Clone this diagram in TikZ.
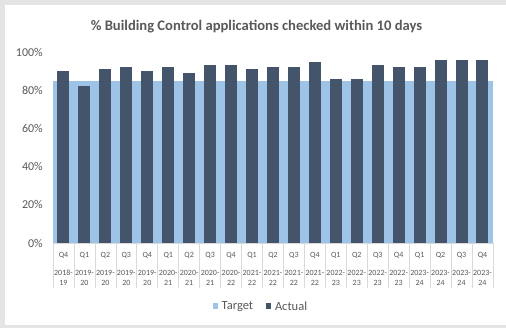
\documentclass[tikz,border=0pt]{standalone}
\usepackage{fontspec}
\setmainfont{Carlito}
\definecolor{outerbg}{HTML}{E4E4E4}
\definecolor{targetc}{HTML}{9DC3E6}
\definecolor{actualc}{HTML}{44546A}
\definecolor{txt}{HTML}{595959}
\definecolor{axisc}{HTML}{D9D9D9}
\tikzset{
  ylab/.style={anchor=east,text=txt,font=\fontsize{12}{14}\selectfont,inner sep=0pt},
  qlab/.style={text=txt,font=\fontsize{8}{9}\selectfont,inner sep=0pt},
  ttl/.style={text=txt,font=\bfseries\fontsize{14.6}{17}\selectfont,inner sep=0pt},
  leg/.style={anchor=west,text=txt,font=\fontsize{12.5}{14}\selectfont,inner sep=0pt},
  actbar/.style={fill=actualc,draw=none},
  tgtbar/.style={fill=targetc,draw=none},
  sep/.style={draw=axisc,line width=0.7pt}
}
\begin{document}
\begin{tikzpicture}[x=1pt,y=-1pt]
\useasboundingbox (0,0) rectangle (506,328);
\fill[outerbg] (0,0) rectangle (506,328);
\fill[white] (5,5.5) rectangle (506,325.5);
% title
\node[ttl] (title) at (256.5,27) {\% Building Control applications checked within 10 days};
% y labels
\foreach \v/\t in {0/0\%,20/20\%,40/40\%,60/60\%,80/80\%,100/100\%}{
  \node[ylab] (y\v) at (43,{243-1.91*\v}) {\t};
}
% target band
\foreach \i in {0,...,20}{
  \fill[tgtbar] ({53+20.95*\i},{243-1.91*85}) rectangle ({53+20.95*(\i+1)},243);
}
% actual bars
\foreach \v [count=\i from 0] in {90,82,91,92,90,92,89,93,93,91,92,92,95,86,86,93,92,92,96,96,96}{
  \fill[actbar] ({53+20.95*(\i+0.5)-6},{243-1.91*\v}) rectangle ({53+20.95*(\i+0.5)+6},243);
}
% category axis
\draw[sep] (53,243.5) -- (493,243.5);
\foreach \i in {0,...,21}{
  \draw[sep] ({53+20.95*\i},243.5) -- ({53+20.95*\i},288);
}
\foreach \q/\ya/\yb [count=\i from 0] in {Q4/2018-/19,Q1/2019-/20,Q2/2019-/20,Q3/2019-/20,Q4/2019-/20,Q1/2020-/21,Q2/2020-/21,Q3/2020-/21,Q4/2020-/22,Q1/2021-/22,Q2/2021-/22,Q3/2021-/22,Q4/2021-/22,Q1/2022-/23,Q2/2022-/23,Q3/2022-/23,Q4/2022-/23,Q1/2023-/24,Q2/2023-/24,Q3/2023-/24,Q4/2023-/24}{
  \node[qlab] (q\i) at ({53+20.95*(\i+0.5)},255) {\q};
  \node[qlab] (ya\i) at ({53+20.95*(\i+0.5)},272.5) {\ya};
  \node[qlab] (yb\i) at ({53+20.95*(\i+0.5)},282.5) {\yb};
}
% legend
\fill[targetc] (212.7,303.3) rectangle (218.3,309);
\node[leg] (legt) at (221.5,306.2) {Target};
\fill[actualc] (265.7,303.3) rectangle (271.3,309);
\node[leg] (lega) at (274.8,306.2) {Actual};
\end{tikzpicture}
\end{document}
